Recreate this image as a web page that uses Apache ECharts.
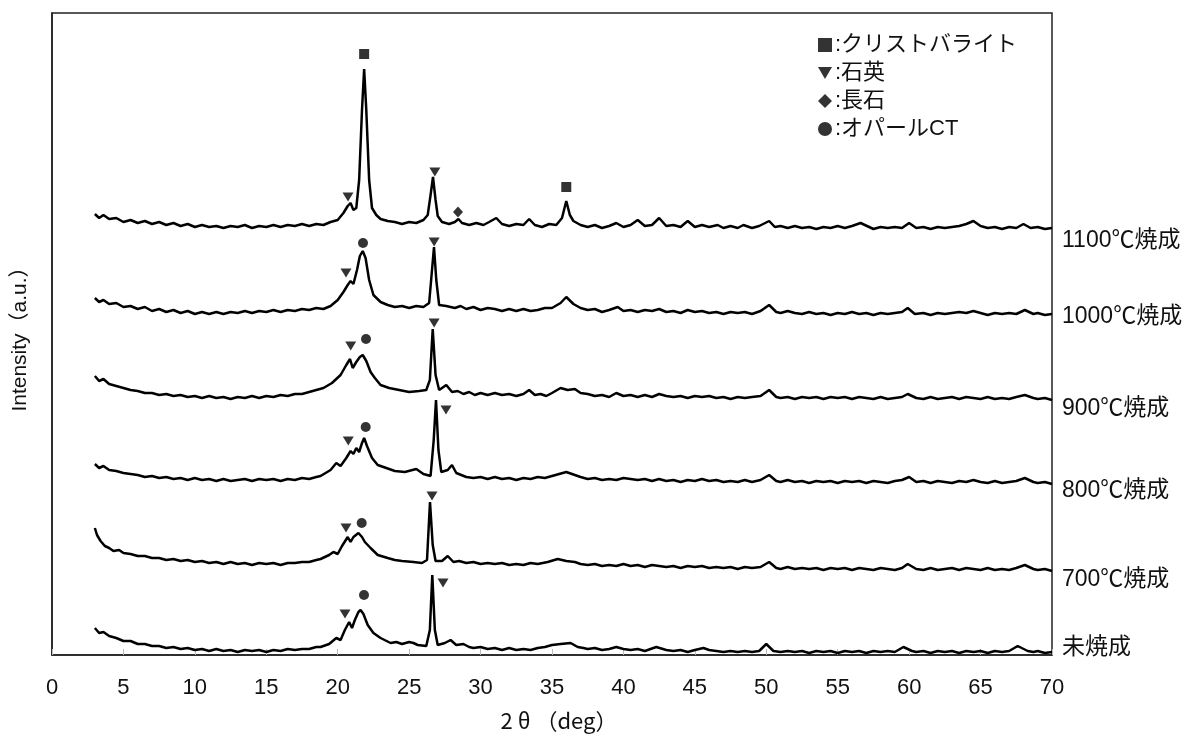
<!DOCTYPE html>
<html>
<head>
<meta charset="utf-8">
<script src="https://cdn.jsdelivr.net/npm/echarts@6/dist/echarts.min.js"></script>
<style>html,body{margin:0;padding:0;background:#fff;}#chart{width:1192px;height:736px;}</style>
</head>
<body>
<div id="chart"></div>
<script>
// ---- data (2θ in deg, intensity in arbitrary units, traces stacked) ----
const xTicks = [0, 5, 10, 15, 20, 25, 30, 35, 40, 45, 50, 55, 60, 65, 70];
const sampleNames = ['1100℃焼成', '1000℃焼成', '900℃焼成', '800℃焼成', '700℃焼成', '未焼成'];

const trace1100 = [[3,441],[3.3,437],[3.6,440],[4,436],[4.5,437],[5,433],[5.5,435],[6,432],[6.5,434],[7,431],[7.5,433],[8,430],[8.5,432],[9,429],[9.5,431],[10,428],[10.5,430],[11,428],[11.5,429],[12,427],[12.5,429],[13,428],[13.5,430],[14,427],[14.5,429],[15,428],[15.5,430],[16,428],[16.5,430],[17,429],[17.5,431],[18,429],[18.5,431],[19,430],[19.5,433],[20,435],[20.4,442],[20.7,449],[20.9,452],[21.1,445],[21.3,447],[21.5,475],[21.7,545],[21.85,586],[22,545],[22.2,475],[22.4,447],[22.7,440],[23,436],[23.5,434],[24,433],[24.5,431],[25,433],[25.5,432],[26,435],[26.3,440],[26.5,460],[26.67,478],[26.85,455],[27,439],[27.3,433],[27.8,431],[28.2,433],[28.45,436],[28.7,432],[29.2,430],[29.7,432],[30.2,430],[30.6,433],[31.1,437],[31.5,431],[32,429],[32.5,431],[33,430],[33.4,436],[33.8,430],[34.3,428],[34.8,431],[35.3,430],[35.7,437],[36,454],[36.25,440],[36.5,434],[37,430],[37.5,428],[38,430],[38.5,427],[39,429],[39.5,432],[40,428],[40.5,430],[41,435],[41.5,429],[42,430],[42.5,437],[43,429],[43.5,430],[44,428],[44.5,434],[45,428],[45.5,430],[46,428],[46.6,430],[47,427],[47.5,429],[48,427],[48.4,430],[49,427],[49.5,429],[50.2,434],[50.6,428],[51,429],[51.5,427],[52,429],[52.5,427],[53,428],[53.5,426],[54,428],[54.5,427],[55,429],[55.5,427],[56,429],[56.6,432],[57.2,428],[57.5,426],[58,428],[58.5,427],[59,428],[59.5,427],[60,432],[60.5,427],[61,428],[61.5,426],[62,428],[62.5,427],[63,428],[63.5,429],[64,431],[64.5,434],[65,429],[65.5,427],[66,428],[66.5,426],[67,428],[67.5,427],[68,431],[68.5,427],[69,428],[69.5,426],[70,427]];

const trace1000 = [[3,357],[3.3,353],[3.6,355],[4,351],[4.5,352],[5,348],[5.5,349],[6,346],[6.5,348],[7,344],[7.5,346],[8,343],[8.5,345],[9,342],[9.5,344],[10,341],[10.5,343],[11,341],[11.5,343],[12,341],[12.5,343],[13,342],[13.5,344],[14,342],[14.5,344],[15,343],[15.5,345],[16,343],[16.5,345],[17,344],[17.5,346],[18,345],[18.5,347],[19,346],[19.5,349],[20,355],[20.4,363],[20.7,370],[20.9,374],[21.1,371],[21.35,385],[21.55,399],[21.75,404],[21.95,397],[22.2,375],[22.5,360],[23,353],[23.5,350],[24,348],[24.5,349],[25,347],[25.5,349],[26,348],[26.4,352],[26.6,385],[26.74,408],[26.9,375],[27.1,350],[27.6,349],[28.2,347],[28.6,349],[29,346],[29.5,348],[30,345],[30.5,347],[31,346],[31.5,344],[32,346],[32.5,344],[33,346],[33.5,344],[34,345],[34.5,347],[35,347],[35.6,352],[36,358],[36.5,351],[37,347],[37.5,345],[38,346],[38.5,343],[39,345],[39.6,348],[40,344],[40.5,345],[41,343],[41.5,345],[42,344],[42.5,346],[43,343],[43.5,344],[44,342],[44.5,345],[45,343],[45.5,344],[46,342],[46.5,343],[47,341],[47.5,343],[48,342],[48.5,343],[49,341],[49.6,344],[50.2,350],[50.7,343],[51,342],[51.5,344],[52,342],[52.5,341],[53,343],[53.5,341],[54,342],[54.5,340],[55,342],[55.5,341],[56,343],[56.5,341],[57,342],[57.5,340],[58,342],[58.5,341],[59,342],[59.5,343],[59.9,347],[60.4,341],[61,342],[61.5,340],[62,342],[62.5,341],[63,342],[63.5,343],[64,342],[64.5,344],[65,342],[65.5,340],[66,342],[66.5,341],[67,342],[67.5,341],[68.1,345],[68.7,341],[69,342],[69.5,340],[70,341]];

const trace900 = [[3,279],[3.3,274],[3.6,276],[4,271],[4.5,269],[5,267],[5.5,265],[6,264],[6.5,262],[7,262],[7.5,260],[8,261],[8.5,259],[9,260],[9.5,258],[10,259],[10.5,257],[11,259],[11.5,257],[12,258],[12.5,256],[13,258],[13.5,257],[14,259],[14.5,257],[15,259],[15.5,258],[16,260],[16.5,259],[17,261],[17.5,261],[18,263],[18.5,265],[19,267],[19.6,272],[20.2,280],[20.6,290],[20.86,296],[21.05,287],[21.3,293],[21.55,298],[21.75,300],[22,294],[22.3,283],[22.6,277],[23,270],[23.6,267],[24.3,265],[25,263],[25.7,264],[26.2,265],[26.45,275],[26.65,326],[26.85,280],[27.1,265],[27.6,270],[28,263],[28.4,264],[28.8,261],[29.2,263],[29.6,260],[30,262],[30.5,260],[31,262],[31.5,260],[32,261],[32.5,259],[33,261],[33.4,265],[33.8,260],[34.2,261],[34.6,259],[35,262],[35.6,267],[36.1,265],[36.6,266],[37,262],[37.5,261],[38,259],[38.5,260],[39,258],[39.5,262],[40,259],[40.5,260],[41,258],[41.5,260],[42,258],[42.5,261],[43,259],[43.5,258],[44,259],[44.5,257],[45,259],[45.5,258],[46,259],[46.5,257],[47,258],[47.5,256],[48,258],[48.5,257],[49,258],[49.6,259],[50.2,265],[50.7,258],[51,257],[51.5,258],[52,256],[52.5,258],[53,257],[53.5,258],[54,256],[54.5,258],[55,257],[55.5,258],[56,256],[56.5,258],[57,257],[57.5,256],[58,258],[58.5,256],[59,257],[59.5,258],[59.9,261],[60.5,257],[61,256],[61.5,258],[62,256],[62.5,257],[63,258],[63.5,256],[64,258],[64.5,257],[65,256],[65.5,258],[66,256],[66.5,257],[67,256],[67.5,258],[68.1,260],[68.7,257],[69,256],[69.5,257],[70,255]];

const trace800 = [[3,191],[3.3,187],[3.6,189],[4,185],[4.5,184],[5,182],[5.5,181],[6,180],[6.5,178],[7,179],[7.5,177],[8,178],[8.5,176],[9,177],[9.5,175],[10,177],[10.5,175],[11,176],[11.5,174],[12,176],[12.5,174],[13,175],[13.5,176],[14,174],[14.5,176],[15,175],[15.5,176],[16,174],[16.5,176],[17,175],[17.5,177],[18,176],[18.5,178],[18.8,179],[19.5,185],[19.9,192],[20.2,189],[20.6,197],[20.9,204],[21.1,201],[21.3,207],[21.5,203],[21.7,212],[21.85,217],[22.05,209],[22.4,197],[22.8,190],[23.4,187],[24,184],[24.7,183],[25.5,186],[26,181],[26.5,179],[26.72,215],[26.88,255],[27.05,205],[27.25,183],[27.7,185],[28,190],[28.3,182],[29,178],[29.5,177],[30,178],[30.5,176],[31,178],[31.5,176],[32,177],[32.5,175],[33,177],[33.5,176],[34,178],[34.5,177],[35,179],[35.5,181],[36,183],[36.6,180],[37,178],[37.5,176],[38,177],[38.5,175],[39,176],[39.5,175],[40,177],[40.5,176],[41,175],[41.5,176],[42,174],[42.5,176],[43,174],[43.5,175],[44,173],[44.5,175],[45,174],[45.5,176],[46,174],[46.5,175],[47,173],[47.5,174],[48,173],[48.5,175],[49,173],[49.6,175],[50.2,180],[50.7,174],[51,173],[51.5,175],[52,173],[52.5,174],[53,172],[53.5,174],[54,173],[54.5,174],[55,172],[55.5,174],[56,173],[56.5,174],[57,172],[57.5,174],[58,173],[58.5,172],[59,174],[59.5,175],[60,178],[60.5,173],[61,174],[61.5,172],[62,174],[62.5,173],[63,172],[63.5,174],[64,173],[64.5,175],[65,173],[65.5,172],[66,174],[66.5,172],[67,173],[67.5,174],[68.1,177],[68.7,173],[69,172],[69.5,173],[70,171]];

const trace700 = [[3,127],[3.15,120],[3.4,114],[3.7,109],[4,107],[4.3,104],[4.7,105],[5,102],[5.5,101],[6,99],[6.5,99],[7,97],[7.5,97],[8,95],[8.5,96],[9,94],[9.5,95],[10,93],[10.5,94],[11,92],[11.5,93],[12,91],[12.5,93],[13,91],[13.5,92],[14,90],[14.5,92],[15,91],[15.5,92],[16,90],[16.5,92],[17,92],[17.5,93],[18,93],[18.5,95],[18.8,96],[19.4,100],[19.7,103],[20,101],[20.3,109],[20.7,118],[20.9,113],[21.1,118],[21.45,122],[21.7,118],[21.9,113],[22.3,107],[22.8,100],[23.5,97],[24,95],[24.5,94],[25.3,93],[25.9,92],[26.25,95],[26.46,153],[26.65,110],[26.85,94],[27.3,94],[27.7,99],[28.1,93],[28.5,94],[29,92],[29.5,93],[30,91],[30.5,92],[31,91],[31.5,92],[32,90],[32.5,91],[33,90],[33.5,92],[34,91],[34.7,93],[35.4,96],[36,94],[36.6,93],[37,91],[37.5,90],[38,91],[38.5,89],[39,90],[39.5,89],[40,91],[40.5,89],[41,90],[41.5,88],[42,90],[42.5,89],[43,88],[43.5,89],[44,87],[44.5,89],[45,88],[45.5,89],[46,87],[46.5,88],[47,87],[47.5,88],[48,86],[48.5,88],[49,87],[49.6,88],[50.2,93],[50.7,87],[51,86],[51.5,88],[52,86],[52.5,87],[53,86],[53.5,87],[54,85],[54.5,87],[55,86],[55.5,87],[56,85],[56.5,87],[57,86],[57.5,85],[58,87],[58.5,86],[59,85],[59.5,87],[59.9,91],[60.5,86],[61,85],[61.5,87],[62,85],[62.5,86],[63,87],[63.5,85],[64,87],[64.5,86],[65,85],[65.5,87],[66,85],[66.5,86],[67,85],[67.5,87],[68.1,90],[68.7,86],[69,85],[69.5,86],[70,84]];

const traceRaw = [[3,27],[3.3,22],[3.6,23],[4,19],[4.5,17],[5,14],[5.5,14],[6,11],[6.5,11],[7,9],[7.5,9],[8,7],[8.5,8],[9,6],[9.5,7],[10,5],[10.5,6],[11,4],[11.5,6],[12,4],[12.5,5],[13,3],[13.5,5],[14,4],[14.5,5],[15,3],[15.5,5],[16,4],[16.5,6],[17,5],[17.5,6],[18,6],[18.5,8],[18.8,8],[19.4,11],[19.9,17],[20.2,15],[20.5,25],[20.8,33],[21,27],[21.2,35],[21.45,43],[21.6,45],[21.8,41],[22.1,30],[22.5,22],[23,17],[23.7,12],[24.1,13],[24.5,11],[25,13],[25.3,12],[25.6,10],[26.2,9],[26.45,25],[26.62,80],[26.8,25],[27,10],[27.5,12],[27.9,15],[28.3,10],[28.8,11],[29.2,8],[29.5,7],[30,8],[30.5,6],[31,7],[31.5,5],[32,7],[32.5,5],[33,6],[33.5,5],[34,7],[34.5,8],[35,10],[35.6,11],[36.3,12],[36.8,8],[37.2,7],[37.5,6],[38,7],[38.5,5],[39,6],[39.5,8],[40,6],[40.5,5],[41,6],[41.5,4],[42.3,8],[43,5],[43.5,4],[44,5],[44.5,3],[45,5],[45.6,7],[46,5],[46.5,4],[47,3],[47.5,4],[48,3],[48.5,4],[49,3],[49.5,4],[50,11],[50.5,4],[51,3],[51.5,4],[52,3],[52.5,4],[53,2],[53.5,4],[54,3],[54.5,4],[55,2],[55.5,4],[56,3],[56.5,4],[57,2],[57.5,4],[58,3],[58.5,4],[59,3],[59.6,8],[60.2,4],[60.5,3],[61,4],[61.5,2],[62,4],[62.5,3],[63,4],[63.5,2],[64,4],[64.5,3],[65,4],[65.5,2],[66,4],[66.5,3],[67,4],[67.6,9],[68.3,4],[68.7,3],[69,4],[69.5,2],[70,3]];

// phase marker positions [2θ, height]
const phaseNames = ['クリストバライト', '石英', '長石', 'オパールCT'];
const cristobaliteMarks = [[21.85,601],[36.0,468]];
const quartzMarks = [[20.72,458],[26.8,483],[20.58,382],[26.75,413],[20.91,309],[26.75,332],[20.74,214],[27.58,245],[20.58,127],[26.6,159],[20.51,41],[27.37,72]];
const feldsparMarks = [[28.42,443]];
const opalMarks = [[21.77,412],[21.98,316],[21.96,228],[21.68,132],[21.84,60]];

// ---- chart ----
const FONT = "'Liberation Sans', 'Noto Sans CJK JP', sans-serif";
const JFONT = "'Noto Sans CJK JP', sans-serif";
const traces = [trace1100, trace1000, trace900, trace800, trace700, traceRaw];
const labelOffsets = [[2, 13], [2, 3], [2, 9], [2, 7], [2, 9], [2, -4]];
const downTri = 'path://M0,0L10,0L5,8.5Z';

const lineSeries = traces.map((d, i) => ({
  name: sampleNames[i],
  type: 'line',
  data: d,
  symbol: 'none',
  silent: true,
  lineStyle: { color: '#000', width: 2.5 },
  endLabel: {
    show: true,
    formatter: '{a}',
    color: '#111',
    fontSize: 23,
    fontFamily: FONT,
    offset: labelOffsets[i]
  },
  z: 2
}));

const markerSpecs = [
  { data: cristobaliteMarks, symbol: 'rect', size: [10, 10] },
  { data: quartzMarks, symbol: downTri, size: [11, 9] },
  { data: feldsparMarks, symbol: 'diamond', size: [10, 11] },
  { data: opalMarks, symbol: 'circle', size: [10, 10] }
];
const markerSeries = markerSpecs.map((m, i) => ({
  name: phaseNames[i],
  type: 'scatter',
  data: m.data,
  symbol: m.symbol,
  symbolSize: m.size,
  itemStyle: { color: '#000' },
  silent: true,
  z: 3
}));

const chart = echarts.init(document.getElementById('chart'));
chart.setOption({
  animation: false,
  backgroundColor: '#fff',
  textStyle: { fontFamily: FONT },
  grid: { left: 52, right: 140, top: 13, bottom: 81, containLabel: false, outerBoundsMode: 'none', show: true, borderColor: '#222', borderWidth: 1.5, backgroundColor: 'transparent' },
  legend: {
    orient: 'vertical',
    left: 813,
    top: 29,
    itemGap: 6,
    itemWidth: 14,
    itemHeight: 14,
    selectedMode: false,
    formatter: ':{name}',
    textStyle: { fontSize: 22, color: '#111', fontFamily: FONT, padding: [0, 0, 0, -2] },
    data: [
      { name: phaseNames[0], icon: 'rect' },
      { name: phaseNames[1], icon: downTri },
      { name: phaseNames[2], icon: 'diamond' },
      { name: phaseNames[3], icon: 'circle' }
    ]
  },
  xAxis: {
    type: 'value',
    min: xTicks[0],
    max: xTicks[xTicks.length - 1],
    interval: 5,
    name: '2 θ （deg）',
    nameLocation: 'middle',
    nameGap: 55,
    nameTextStyle: { fontSize: 22, color: '#111', fontFamily: JFONT, padding: [0, 0, 0, 14] },
    axisLine: { show: true, lineStyle: { color: '#222', width: 1.5 } },
    axisTick: { show: true, inside: true, length: 6, lineStyle: { color: '#bbb' } },
    axisLabel: { fontSize: 22, color: '#111', margin: 22, fontFamily: FONT },
    splitLine: { show: false }
  },
  yAxis: {
    type: 'value',
    min: 0,
    max: 642,
    name: 'Intensity（a.u.）',
    nameLocation: 'middle',
    nameGap: 21,
    nameTextStyle: { fontSize: 21, color: '#111', fontFamily: FONT },
    axisLine: { show: true, lineStyle: { color: '#222', width: 1.5 } },
    axisTick: { show: false },
    axisLabel: { show: false },
    splitLine: { show: false }
  },
  series: lineSeries.concat(markerSeries)
});
</script>
</body>
</html>
